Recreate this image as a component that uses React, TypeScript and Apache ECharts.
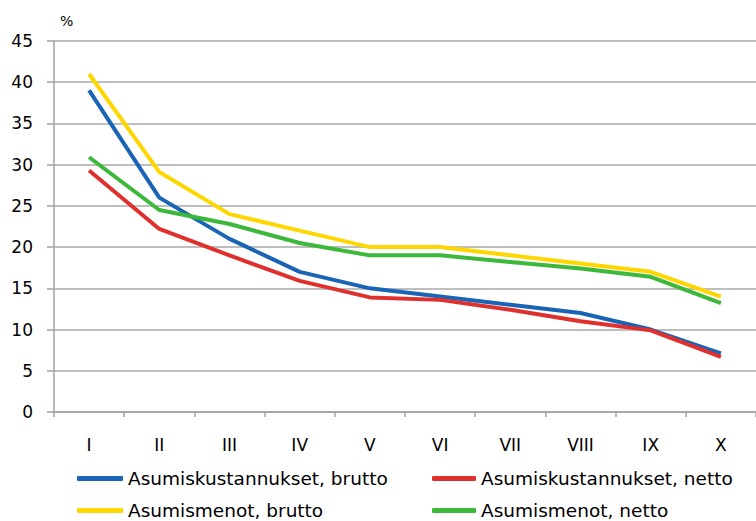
import React, { useEffect, useRef } from "react";
import * as echarts from "echarts";

const categories = ["I", "II", "III", "IV", "V", "VI", "VII", "VIII", "IX", "X"];
const kustannuksetBrutto = [39, 26, 21, 17, 15, 14, 13, 12, 10, 7.1];
const kustannuksetNetto = [29.3, 22.2, 19, 15.9, 13.9, 13.6, 12.4, 11, 9.9, 6.7];
const menotBrutto = [41, 29.1, 24, 22, 20, 20, 19, 18, 17, 14];
const menotNetto = [30.9, 24.5, 22.8, 20.5, 19, 19, 18.2, 17.4, 16.4, 13.2];
const seriesNames = [
  "Asumiskustannukset, brutto",
  "Asumiskustannukset, netto",
  "Asumismenot, brutto",
  "Asumismenot, netto",
];
const colors = ["#1a64b6", "#e0302e", "#ffd700", "#3cb83a"];

const FONT = "DejaVu Sans";

export default function App() {
  const ref = useRef<HTMLDivElement>(null);
  useEffect(() => {
    if (!ref.current) return;
    const chart = echarts.init(ref.current, undefined, { renderer: "svg" });
    const data = [kustannuksetBrutto, kustannuksetNetto, menotBrutto, menotNetto];
    const legendPos = [
      { left: 77, top: 469, w: 46 },
      { left: 432, top: 469, w: 44 },
      { left: 77, top: 501, w: 46 },
      { left: 432, top: 501, w: 44 },
    ];
    chart.setOption({
      animation: false,
      backgroundColor: "#ffffff",
      grid: { left: 54, top: 41, width: 705, height: 371, containLabel: false },
      legend: seriesNames.map((n, i) => ({
        data: [n],
        left: legendPos[i].left,
        top: legendPos[i].top,
        icon: "roundRect",
        itemWidth: legendPos[i].w,
        itemHeight: 5,
        padding: 0,
        selectedMode: false,
        textStyle: { fontFamily: FONT, fontSize: 18.5, color: "#000" },
      })),
      graphic: [
        {
          type: "text",
          left: 60,
          top: 14,
          style: { text: "%", fontFamily: FONT, fontSize: 14, fill: "#000" },
        },
      ],
      xAxis: {
        type: "category",
        data: categories,
        boundaryGap: true,
        axisLine: { show: true, lineStyle: { color: "#a0a0a0", width: 1.5 } },
        axisTick: { show: true, length: 5, lineStyle: { color: "#a0a0a0", width: 1.5 } },
        axisLabel: { margin: 24, fontFamily: FONT, fontSize: 17, color: "#000" },
      },
      yAxis: {
        type: "value",
        min: 0,
        max: 45,
        interval: 5,
        axisLine: { show: true, lineStyle: { color: "#a0a0a0", width: 1.5 } },
        axisTick: { show: true, length: 7, inside: false, lineStyle: { color: "#a0a0a0", width: 1.5 } },
        splitLine: { show: true, lineStyle: { color: "#a8a8a8", width: 1.5 } },
        axisLabel: { margin: 21, fontFamily: FONT, fontSize: 17, color: "#000" },
      },
      series: seriesNames.map((n, i) => ({
        name: n,
        type: "line",
        data: data[i],
        symbol: "none",
        color: colors[i],
        lineStyle: { width: 4, color: colors[i] },
        z: 2 + i,
      })),
    });
    return () => chart.dispose();
  }, []);
  return <div ref={ref} style={{ width: 756, height: 521, position: "absolute", left: 0, top: 0 }} />;
}
